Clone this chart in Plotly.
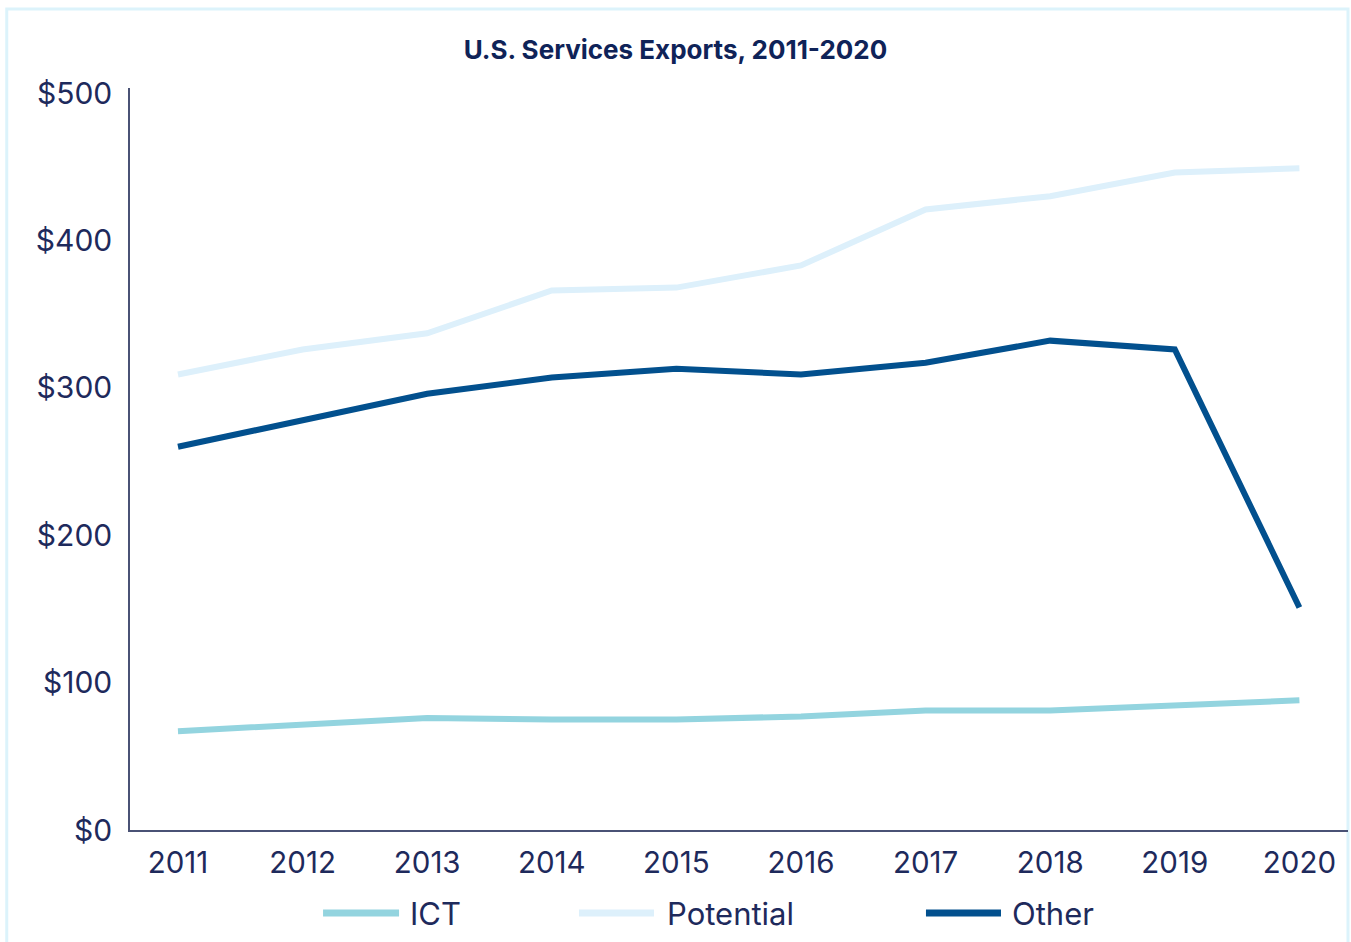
import plotly.graph_objects as go

# U.S. services exports by category, billions of dollars
years = ["2011", "2012", "2013", "2014", "2015", "2016", "2017", "2018", "2019", "2020"]
ict = [67, 71, 76, 75, 75, 77, 81, 81, 84, 88]
potential = [309, 326, 337, 366, 368, 383, 421, 430, 446, 449]
other = [260, 278, 296, 307, 313, 309, 317, 332, 326, 151]

y_ticks = [0, 100, 200, 300, 400, 500]
y_tick_labels = ["$0", "$100", "$200", "$300", "$400", "$500"]

series_names = ["ICT", "Potential", "Other"]
series_colors = ["#93d4df", "#ddf0fb", "#02508e"]

NAVY = "#1e2a5c"
FONT = "Inter, Roboto, 'Noto Sans', sans-serif"

fig = go.Figure()
for name, vals, col in zip(series_names, [ict, potential, other], series_colors):
    fig.add_trace(go.Scatter(
        x=years, y=vals, name=name, mode="lines",
        line=dict(color=col, width=6),
        showlegend=False,
    ))

# Legend drawn as line samples with labels underneath the axis
legend_y = -0.112
legend_items = [(0.1585, 0.2209, 0.2282), (0.3686, 0.4302, 0.4392), (0.6535, 0.7151, 0.7225)]
shapes = []
annotations = []
for (x0, x1, xt), name, col in zip(legend_items, series_names, series_colors):
    shapes.append(dict(type="line", xref="paper", yref="paper",
                       x0=x0, x1=x1, y0=legend_y, y1=legend_y,
                       line=dict(color=col, width=7)))
    annotations.append(dict(xref="paper", yref="paper", x=xt, y=legend_y,
                            text=name, showarrow=False, xanchor="left", yanchor="middle",
                            font=dict(family=FONT, size=31, color=NAVY)))

# Outer frame around the whole chart
shapes.append(dict(type="rect", xref="paper", yref="paper",
                   x0=-0.1012, x1=1.0, y0=-0.155, y1=1.1065,
                   line=dict(color="#dcf3fb", width=3), layer="below"))

fig.update_layout(
    width=1351, height=942,
    margin=dict(l=130, r=3, t=88, b=112),
    paper_bgcolor="white", plot_bgcolor="white",
    title=dict(text="<b>U.S. Services Exports, 2011-2020</b>",
               x=0.5, xref="container", xanchor="center",
               y=1 - 50 / 942, yref="container", yanchor="middle",
               font=dict(family=FONT, size=26, color="#0f2358")),
    xaxis=dict(type="category", range=[-0.385, 9.39],
               showgrid=False, zeroline=False,
               showline=True, linecolor="#4a5275", linewidth=1.5,
               ticks="", tickfont=dict(family=FONT, size=29.5, color=NAVY),
               ticklabelstandoff=6),
    yaxis=dict(range=[0, 503.4], tickvals=y_ticks, ticktext=y_tick_labels,
               showgrid=False, zeroline=False,
               showline=True, linecolor="#4a5275", linewidth=1.5,
               ticks="", tickfont=dict(family=FONT, size=30, color=NAVY),
               ticklabelstandoff=10),
    shapes=shapes,
    annotations=annotations,
)

fig.write_html("out.html")
